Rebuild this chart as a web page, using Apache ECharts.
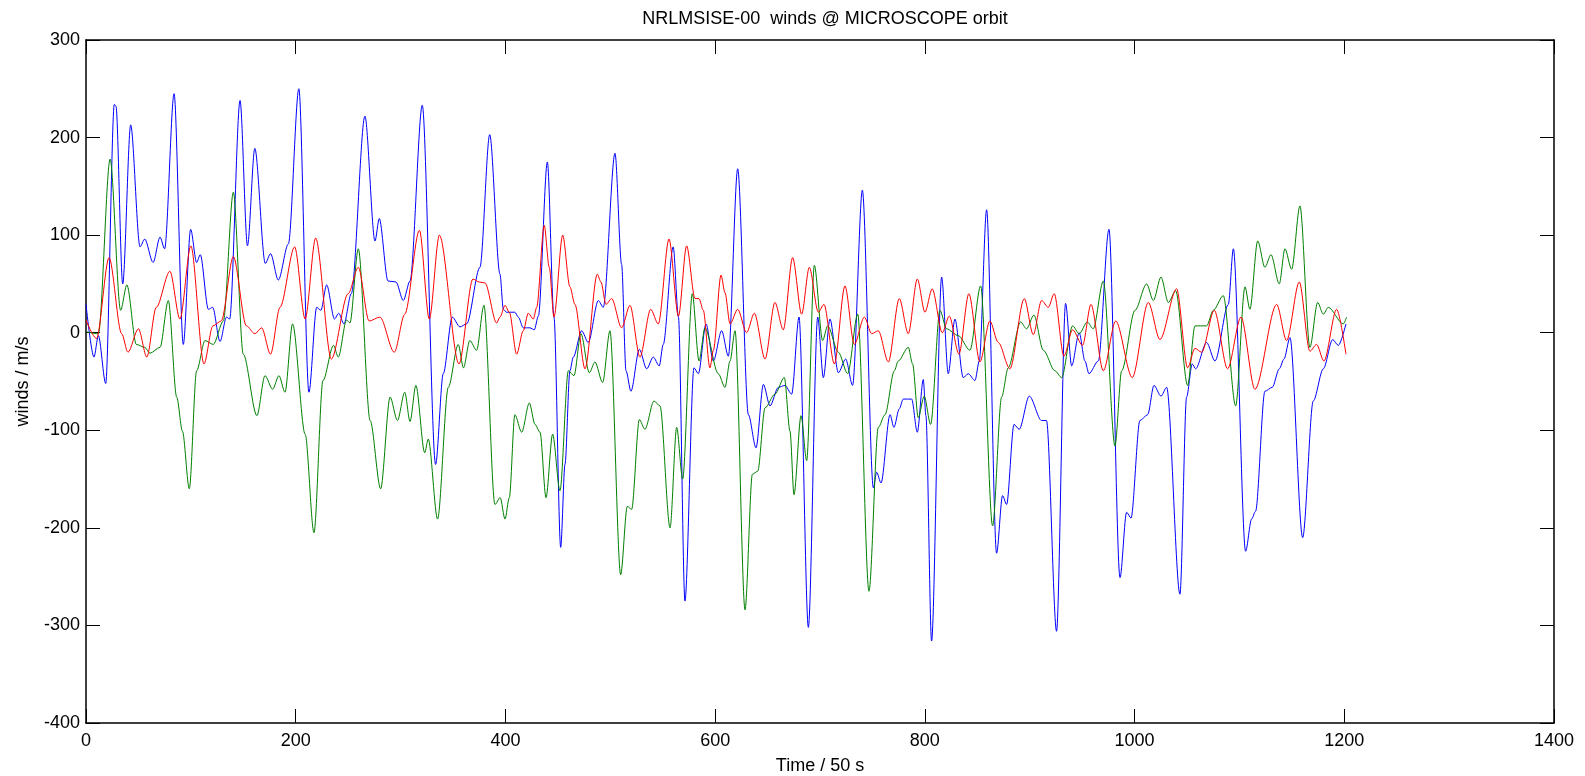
<!DOCTYPE html>
<html>
<head>
<meta charset="utf-8">
<script src="https://cdn.jsdelivr.net/npm/echarts@6/dist/echarts.min.js"></script>
<style>
html,body{margin:0;padding:0;background:#fff;}
#chart{width:1585px;height:776px;}
</style>
</head>
<body>
<div id="chart"></div>
<script>
// [time (x 50 s), wind (m/s)]
const blueWind = [[0,29],[7.6,-25],[11.8,-3],[18.8,-52],[27,234],[28.6,232],[35,50],[42.6,213],[51.5,88],[56,96],[64,72],[70.6,98],[75,86],[84,245],[92.8,-12],[99.8,106],[105.5,72],[109,80],[116.7,24],[120.8,26],[127.8,-9],[134,16],[137,14],[146.9,238],[154,89],[161,189],[171,71],[176,81],[183.4,54],[193,91],[203,250],[212.6,-61],[220,26],[224,23],[229.5,49],[237,14],[241,20],[246,9],[253,40],[266,222],[275.6,94],[279.7,117],[288,53],[295.6,52],[302.6,33],[309,53],[320.7,233],[333.4,-135],[340.7,-42],[349.3,16],[356.6,6],[363,9],[375.7,67],[385,203],[394.8,60],[398,24],[401,21],[409,21],[412.3,16],[417,5],[423.4,5],[427.5,3],[431.4,17],[440,175],[446.3,16],[452.7,-220],[456.8,-135],[461.5,-39],[464.7,-25],[472.7,2],[479,-10],[488.6,33],[493.3,26],[504.5,184],[510.8,70],[515,-39],[519.7,-60],[527.7,-17],[534.7,-37],[541,-25],[546.7,-34],[550.5,-12],[560,88],[565,16],[571.2,-275],[579.8,-36],[584,-42],[591.3,9],[598.3,-29],[606.2,2],[612.6,-24],[621.5,168],[631.7,-84],[639,-118],[646,-53],[652.3,-75],[660.3,-56],[666.6,-54],[673,-63],[680,16],[688.9,-302],[697.8,16],[703.2,-46],[709.5,14],[717.5,-41],[724.5,-27],[731.1,-54],[740.4,146],[750.9,-159],[754,-143],[758.2,-154],[766.8,-84],[770.5,-97],[775.6,-78],[779.4,-68],[787.4,-68],[792.8,-102],[798.5,-48],[801,-85],[806.4,-316],[816,57],[822.3,-42],[828.7,14],[836.6,-46],[841.4,-42],[847.8,-49],[851.9,-29],[858.9,126],[868.4,-226],[874.1,-167],[878,-176],[885,-94],[890,-99],[899.6,-65],[911.3,-90],[916,-90],[925.6,-306],[934.2,30],[940,-34],[947.2,0],[952.7,-29],[956.5,-42],[965.4,-29],[975.6,106],[986.1,-251],[992.4,-184],[996.6,-190],[1005.1,-90],[1012.5,-84],[1018.5,-54],[1025.2,-65],[1030.6,-56],[1043.3,-268],[1049.6,-66],[1055,-32],[1058.2,-37],[1068.7,-10],[1076.7,-29],[1089.4,29],[1094.2,86],[1105.9,-224],[1111.6,-191],[1115.4,-183],[1124.3,-60],[1131.3,-56],[1138,-37],[1142.5,-27],[1148.2,-5],[1160.3,-210],[1170.4,-70],[1180,-37],[1188.9,-7],[1194.3,-13],[1201.6,9]];

const greenWind = [[0,1],[11.8,-1],[23,178],[33,23],[39,49],[48,-12],[56,-15],[61,-21],[70.6,-15],[78.5,33],[86.5,-66],[92,-101],[98.5,-160],[105.5,-39],[113.5,-8],[121.4,-12],[131,12],[140.5,144],[150,-22],[163,-85],[170.7,-44],[178,-58],[184,-44],[189.8,-61],[197,9],[209,-104],[217.4,-205],[226,-49],[236,-13],[240.6,-25],[248.5,13],[251.7,10],[259.7,86],[271,-90],[281,-160],[290,-66],[297,-90],[304,-61],[309,-91],[314.6,-54],[323,-123],[326.4,-109],[335.3,-191],[345.5,-56],[355,-12],[360,-36],[366,-8],[372.5,-18],[379.5,28],[390,-176],[395,-169],[399.6,-191],[403.7,-169],[409,-84],[415.5,-102],[422.8,-72],[428.2,-94],[433,-102],[438.7,-169],[445,-104],[452,-162],[460,-39],[465.4,-44],[472,-1],[480,-41],[485.4,-30],[492.7,-51],[499.7,2],[509.9,-248],[516.2,-178],[520.4,-181],[527.7,-89],[533,-99],[541.7,-70],[547.4,-75],[557,-200],[563.3,-97],[569,-150],[578.2,40],[584.6,-29],[590.3,5],[603,-42],[609.4,-56],[614.2,-29],[619,2],[628.5,-284],[635.5,-145],[640.6,-142],[647.6,-77],[657,-63],[666,-46],[671.4,-101],[675.2,-166],[681.9,-85],[687.3,-131],[694.6,69],[702.5,-8],[707.3,7],[717.5,-20],[726.4,-42],[736,19],[746.7,-265],[755.6,-97],[762,-84],[770.9,-39],[774.6,-29],[784.2,-15],[788.3,-32],[793.7,-87],[799.4,-65],[805.5,-94],[814.4,23],[820.7,4],[831.9,-3],[843,-18],[853.2,48],[864.6,-198],[873.2,-66],[879.5,-36],[891.3,11],[897,4],[904,18],[913,-18],[924,-39],[930.4,-46],[940.9,7],[947.2,-1],[954.9,11],[960.6,4],[970.2,53],[981.3,-116],[987.7,-39],[1000.4,23],[1011.5,50],[1017.9,33],[1025.2,57],[1032.2,31],[1039.2,43],[1050.6,-54],[1057.6,7],[1068.7,7],[1075.1,23],[1084.6,38],[1096.4,-75],[1105.3,47],[1110,24],[1117.4,94],[1124.3,67],[1130.1,80],[1138,50],[1143.4,86],[1149.8,65],[1157.7,130],[1167.2,-15],[1174.6,31],[1180,19],[1184.7,26],[1199,9],[1202.2,16]];

const redWind = [[0,13],[10,-6],[22,77],[34,-1],[40,-20],[50,4],[58,-25],[67,26],[80,63],[89.6,14],[100,89],[112.5,-32],[121,7],[129,12],[140.5,78],[153,7],[161,-1],[167.5,5],[176,-22],[185,26],[199,88],[209,14],[219,97],[234,-27],[250,40],[259.7,67],[270,12],[280.3,16],[294,-20],[304,19],[318,105],[327.4,14],[337,100],[355.7,-32],[369,55],[375,52],[380.5,51],[391.6,10],[394.8,16],[399.6,28],[403.7,21],[410.7,-22],[417,2],[421.8,20],[426.6,14],[429.8,26],[437,110],[441.8,67],[446.3,16],[454.6,100],[461.5,47],[466.3,29],[475.9,-37],[487.6,60],[491.1,52],[495.9,29],[501.3,35],[510.8,5],[518.8,28],[528.3,-25],[538.5,24],[545.8,9],[556,96],[565,17],[572.8,89],[580.8,35],[584.6,35],[588.7,23],[595,-36],[598.3,-18],[605.6,59],[609.4,41],[614.2,9],[621.5,24],[630,0],[637.4,20],[647.6,-27],[657,31],[665,3],[673.9,77],[682.5,19],[689.8,67],[698.4,21],[703.8,29],[713.7,-32],[723.8,48],[732.7,-12],[742.3,16],[749.3,-1],[755.6,2],[765.2,-30],[775.6,35],[784.2,-1],[792.8,55],[800.1,21],[807,45],[816.6,0],[823.3,17],[832.5,-22],[842,40],[852.5,-30],[862,12],[870,-10],[881.1,-37],[894.8,35],[903.4,-2],[911.3,33],[917.7,26],[923.4,40],[932.6,-24],[940.9,3],[950.4,-13],[958.4,29],[970.2,-39],[982,12],[997.8,-46],[1013.1,31],[1024.2,-7],[1040.1,45],[1050.6,-36],[1057.6,-16],[1064,-20],[1076,23],[1088.7,-37],[1101.5,16],[1114.8,-58],[1135.5,29],[1145,-8],[1157.1,52],[1167.2,-19],[1173.6,-12],[1180.6,-29],[1192.7,24],[1201.6,-22]];

const xTicks = [0, 200, 400, 600, 800, 1000, 1200, 1400];
const yTicks = [-400, -300, -200, -100, 0, 100, 200, 300];

const FONT = '"Liberation Sans", Arial, Helvetica, sans-serif';
const chart = echarts.init(document.getElementById('chart'), null, {renderer: 'canvas'});

function axisBase(isX, show, pos, ticks) {
  return {
    type: 'value',
    position: pos,
    min: ticks[0],
    max: ticks[ticks.length - 1],
    interval: ticks[1] - ticks[0],
    axisLine: {show: true, onZero: false, lineStyle: {color: '#000', width: 1.5}},
    axisTick: {show: true, inside: true, length: 14, lineStyle: {color: '#000', width: 1}},
    splitLine: {show: false},
    axisLabel: {
      show: show,
      color: '#000',
      fontSize: 18,
      fontFamily: FONT,
      margin: isX ? 9 : 6,
      formatter: function (v) { return String(v); }
    }
  };
}

const xBottom = Object.assign(axisBase(true, true, 'bottom', xTicks), {
  name: 'Time / 50 s', nameLocation: 'middle', nameGap: 34,
  nameTextStyle: {color: '#000', fontSize: 18, fontFamily: FONT}
});
const xTop = axisBase(true, false, 'top', xTicks);
const yLeft = Object.assign(axisBase(false, true, 'left', yTicks), {
  name: 'winds / m/s', nameLocation: 'middle', nameGap: 54,
  nameTextStyle: {color: '#000', fontSize: 18, fontFamily: FONT}
});
const yRight = axisBase(false, false, 'right', yTicks);

function line(data, color) {
  return {
    type: 'line', data: data, showSymbol: false, symbol: 'none',
    smooth: 0.3, smoothMonotone: 'x',
    lineStyle: {color: color, width: 1}, itemStyle: {color: color},
    xAxisIndex: 0, yAxisIndex: 0, animation: false, clip: true
  };
}

chart.setOption({
  backgroundColor: '#fff',
  animation: false,
  title: {
    text: 'NRLMSISE-00  winds @ MICROSCOPE orbit',
    left: 820, top: 5, textAlign: 'center',
    textStyle: {color: '#000', fontSize: 18, fontWeight: 'normal', fontFamily: FONT}
  },
  grid: {left: 86, right: 31, top: 40, bottom: 53, containLabel: false, outerBoundsMode: 'none'},
  xAxis: [xBottom, xTop],
  yAxis: [yLeft, yRight],
  series: [
    line(blueWind, '#0000ff'),
    line(greenWind, '#008000'),
    line(redWind, '#ff0000')
  ]
});
</script>
</body>
</html>
